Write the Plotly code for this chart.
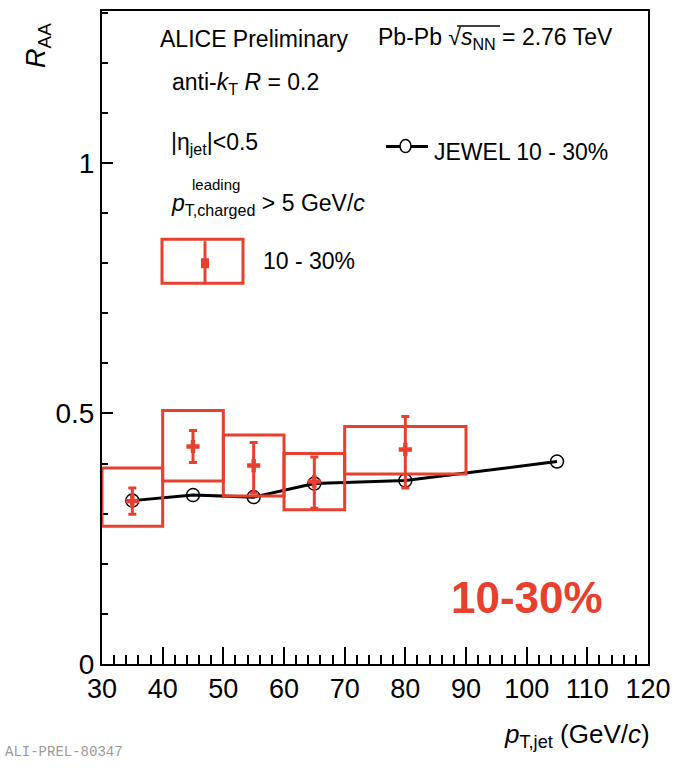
import plotly.graph_objects as go

# ---------------- data ----------------
bin_lo = [30, 40, 50, 60, 70]
bin_hi = [40, 50, 60, 70, 90]
pt_data = [35, 45, 55, 65, 80]
raa = [0.325, 0.434, 0.396, 0.364, 0.428]
stat_up = [0.026, 0.032, 0.046, 0.049, 0.066]
stat_dn = [0.026, 0.032, 0.055, 0.053, 0.077]
sys_lo = [0.275, 0.365, 0.335, 0.308, 0.379]
sys_hi = [0.391, 0.506, 0.457, 0.420, 0.474]

pt_jewel = [35, 45, 55, 65, 80, 105]
raa_jewel = [0.326, 0.337, 0.333, 0.360, 0.366, 0.404]

x_ticks = [30, 40, 50, 60, 70, 80, 90, 100, 110, 120]
y_ticks = [0, 0.5, 1]
y_tick_text = ["0", "0.5", "1"]

RED = "#e8402f"
FONT = "Liberation Sans Narrow, Liberation Sans, Arial"

# pixel -> paper helpers (layout placement only)
X0, W, Y0, H = 102, 546, 664, 655
def PX(px):
    return (px - X0) / W
def PY(py):
    return (Y0 - py) / H

fig = go.Figure()

# systematic boxes
for lo, hi, ylo, yhi in zip(bin_lo, bin_hi, sys_lo, sys_hi):
    fig.add_shape(type="rect", xref="x", yref="y", x0=lo, x1=hi, y0=ylo, y1=yhi,
                  line=dict(color=RED, width=3), fillcolor="rgba(0,0,0,0)", layer="above")

# JEWEL
fig.add_trace(go.Scatter(x=pt_jewel, y=raa_jewel, mode="lines+markers",
                         line=dict(color="black", width=3),
                         marker=dict(symbol="circle-open", size=13, color="black",
                                     line=dict(width=1.5, color="black")),
                         showlegend=False))

# data points with stat errors
fig.add_trace(go.Scatter(x=pt_data, y=raa, mode="markers",
                         marker=dict(symbol="cross", size=11, color=RED),
                         error_y=dict(type="data", array=stat_up, arrayminus=stat_dn,
                                      color=RED, thickness=3, width=4),
                         showlegend=False))

ann = []
def text(px, py, s, size=23, color="black", xanchor="left", family=FONT, **kw):
    ann.append(dict(x=PX(px), y=PY(py), xref="paper", yref="paper", text=s,
                    showarrow=False, xanchor=xanchor, yanchor="middle",
                    font=dict(family=family, size=size, color=color), **kw))

text(158, 37, "ALICE Preliminary")
text(376, 37, "Pb-Pb √<i>s</i><sub>NN</sub> = 2.76 TeV")
text(170, 82, "anti-<i>k</i><sub>T</sub> <i>R</i> = 0.2")
text(169, 142, "|η<sub>jet</sub>|<0.5")
text(190, 183, "leading", size=15)
text(169, 203, "<i>p</i><sub>T,charged</sub> > 5 GeV/<i>c</i>")
text(261, 260, "10 - 30%")
text(432, 150, "JEWEL 10 - 30%")
text(605, 597, "<b>10-30%</b>", size=44, color=RED, xanchor="right")
text(652, 736, "<i>p</i><sub>T,jet</sub> (GeV/<i>c</i>)", size=26, xanchor="right")
text(38, 44, "<i>R</i><sub>AA</sub>", size=27, xanchor="center", textangle=-90)
text(3, 752, "ALI-PREL-80347", size=14, color="#9a9a9a", family="Liberation Mono, DejaVu Sans Mono")

shapes = []
# overline of sqrt
shapes.append(dict(type="line", xref="paper", yref="paper", x0=PX(457), x1=PX(500),
                   y0=PY(24), y1=PY(24), line=dict(color="black", width=1.5)))
# legend: data box
shapes.append(dict(type="rect", xref="paper", yref="paper", x0=PX(162), x1=PX(243),
                   y0=PY(282), y1=PY(238), line=dict(color=RED, width=3)))
shapes.append(dict(type="line", xref="paper", yref="paper", x0=PX(205), x1=PX(205),
                   y0=PY(282), y1=PY(240), line=dict(color=RED, width=3)))
shapes.append(dict(type="rect", xref="paper", yref="paper", x0=PX(201), x1=PX(209),
                   y0=PY(267), y1=PY(257), line=dict(color=RED, width=0), fillcolor=RED))
# legend: JEWEL
shapes.append(dict(type="line", xref="paper", yref="paper", x0=PX(386), x1=PX(428),
                   y0=PY(145), y1=PY(145), line=dict(color="black", width=3)))
shapes.append(dict(type="circle", xref="paper", yref="paper", x0=PX(400), x1=PX(411),
                   y0=PY(151), y1=PY(138), line=dict(color="black", width=1.5),
                   fillcolor="white"))

for s in shapes:
    fig.add_shape(**s)

fig.update_layout(
    width=680, height=768,
    margin=dict(l=X0, r=680 - X0 - W, t=Y0 - H, b=768 - Y0),
    paper_bgcolor="white", plot_bgcolor="white",
    annotations=ann,
    showlegend=False,
    xaxis=dict(range=[30, 120], tickvals=x_ticks, ticks="inside", ticklen=17, tickwidth=1.5,
               tickcolor="black", showline=True, linecolor="black", linewidth=2, mirror=True,
               showgrid=False, zeroline=False,
               tickfont=dict(family=FONT, size=27, color="black"),
               minor=dict(dtick=2, tick0=30, ticks="inside", ticklen=9, tickwidth=1.5, tickcolor="black")),
    yaxis=dict(range=[0, 1.303], tickvals=y_ticks, ticktext=y_tick_text, ticks="inside", ticklen=11,
               tickwidth=1.5, tickcolor="black", showline=True, linecolor="black", linewidth=2,
               mirror=True, showgrid=False, zeroline=False,
               tickfont=dict(family=FONT, size=28, color="black"),
               minor=dict(dtick=0.1, tick0=0, ticks="inside", ticklen=6, tickwidth=1.5, tickcolor="black")),
)

fig.write_html("out.html")
